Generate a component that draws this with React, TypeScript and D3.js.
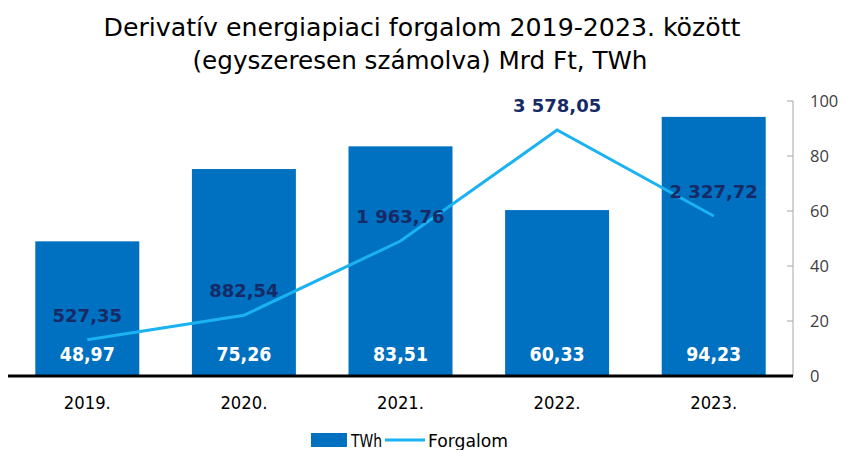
import React from "react";
import * as d3 from "d3";

const categories = ["2019.", "2020.", "2021.", "2022.", "2023."];
const twhValues = [48.97, 75.26, 83.51, 60.33, 94.23];
const forgalomValues = [527.35, 882.54, 1963.76, 3578.05, 2327.72];
const twhLabels = ["48,97", "75,26", "83,51", "60,33", "94,23"];
const forgalomLabels = ["527,35", "882,54", "1 963,76", "3 578,05", "2 327,72"];
const yTicks = [0, 20, 40, 60, 80, 100];
const titleLines = [
  "Derivatív energiapiaci forgalom 2019-2023. között",
  "(egyszeresen számolva) Mrd Ft, TWh",
];

const W = 844;
const H = 450;
const FONT = "'DejaVu Sans Condensed', 'Liberation Sans Narrow', 'DejaVu Sans', sans-serif";
const BOLDFONT = "'DejaVu Sans', sans-serif";

export default function App() {
  const x = d3
    .scaleBand<string>()
    .domain(categories)
    .range([9, 792])
    .paddingInner(0.336)
    .paddingOuter(0.168);
  const y = d3.scaleLinear().domain([0, 100]).range([376, 101]);
  const y2 = d3.scaleLinear().domain([0, 4000]).range([376, 101]);

  const cx = (i: number) => (x(categories[i]) as number) + x.bandwidth() / 2;

  const line = d3
    .line<number>()
    .x((_, i) => cx(i))
    .y((d) => y2(d));

  const axisX = 793;

  return (
    <svg
      width={W}
      height={H}
      style={{ position: "absolute", left: 0, top: 0, background: "#fff" }}
      fontFamily={FONT}
    >
      {/* title */}
      <text x={422} y={36} textAnchor="middle" fontSize={24} fill="#000" style={{ fontStretch: "condensed" }} textLength={637} lengthAdjust="spacingAndGlyphs">
        {titleLines[0]}
      </text>
      <text x={420} y={69} textAnchor="middle" fontSize={24} fill="#000" style={{ fontStretch: "condensed" }} textLength={455} lengthAdjust="spacingAndGlyphs">
        {titleLines[1]}
      </text>

      {/* bars */}
      {twhValues.map((v, i) => (
        <rect
          key={"b" + i}
          x={x(categories[i])}
          y={y(v)}
          width={x.bandwidth()}
          height={y(0) - y(v)}
          fill="#0070C0"
        />
      ))}

      {/* right axis */}
      <line x1={axisX} x2={axisX} y1={y(100)} y2={y(0)} stroke="#A6A6A6" strokeWidth={1} />
      {yTicks.map((t) => (
        <g key={"t" + t}>
          <line x1={axisX - 6} x2={axisX} y1={y(t)} y2={y(t)} stroke="#A6A6A6" strokeWidth={1} />
          <text x={810} y={y(t) + 6} fontSize={16.5} fill="#404040" fontFamily="'Open Sans', sans-serif">
            {t}
          </text>
        </g>
      ))}

      {/* baseline */}
      <line x1={8} x2={axisX} y1={376} y2={376} stroke="#000" strokeWidth={3} />

      {/* line */}
      <path d={line(forgalomValues) || ""} fill="none" stroke="#1AB2F0" strokeWidth={3} />

      {/* bar labels */}
      {twhValues.map((v, i) => (
        <text
          key={"bl" + i}
          x={cx(i)}
          y={361}
          textAnchor="middle"
          fontSize={19.5}
          fontWeight="bold"
          fill="#fff"
          fontFamily={BOLDFONT}
          textLength={55}
          lengthAdjust="spacingAndGlyphs"
        >
          {twhLabels[i]}
        </text>
      ))}

      {/* line labels */}
      {forgalomValues.map((v, i) => (
        <text
          key={"ll" + i}
          x={cx(i)}
          y={y2(v) - 18}
          textAnchor="middle"
          fontSize={18}
          fontWeight="bold"
          fill="#172A66"
          fontFamily={BOLDFONT}
        >
          {forgalomLabels[i]}
        </text>
      ))}

      {/* category labels */}
      {categories.map((c) => (
        <text
          key={"c" + c}
          x={(x(c) as number) + x.bandwidth() / 2}
          y={409}
          textAnchor="middle"
          fontSize={17}
          fill="#000"
          style={{ fontStretch: "condensed" }}
          textLength={47}
          lengthAdjust="spacingAndGlyphs"
        >
          {c}
        </text>
      ))}

      {/* legend */}
      <rect x={311} y={433} width={36} height={14} fill="#0070C0" />
      <text x={351} y={447} fontSize={17} fill="#000" style={{ fontStretch: "condensed" }} textLength={31} lengthAdjust="spacingAndGlyphs">TWh</text>
      <line x1={385} x2={425} y1={440} y2={440} stroke="#1AB2F0" strokeWidth={3} />
      <text x={428} y={447} fontSize={17} fill="#000" style={{ fontStretch: "condensed" }} textLength={80} lengthAdjust="spacingAndGlyphs">Forgalom</text>
    </svg>
  );
}
